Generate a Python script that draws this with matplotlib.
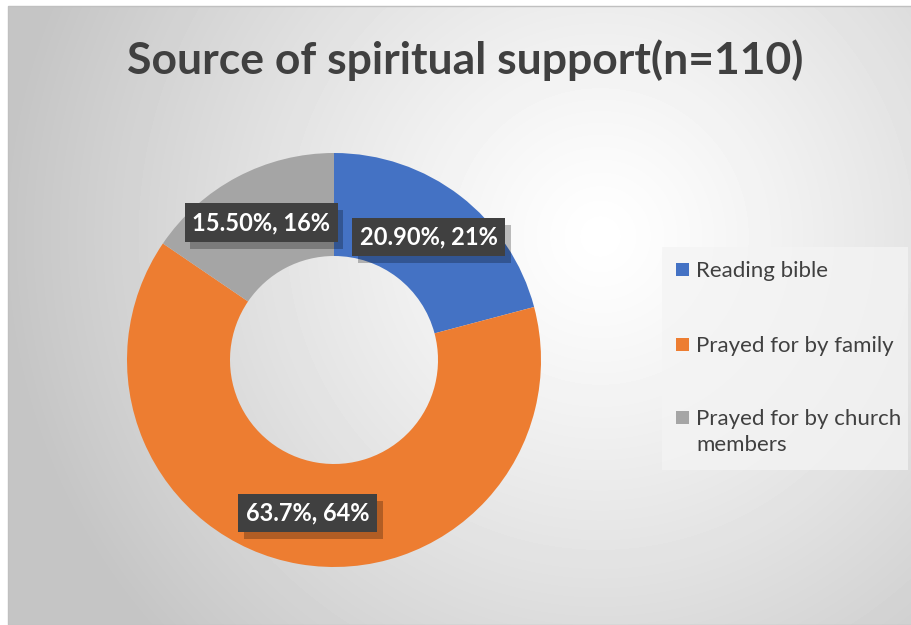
import numpy as np
import matplotlib.pyplot as plt
import matplotlib.patheffects as pe
from matplotlib.patches import Rectangle

categories = ['Reading bible', 'Prayed for by family', 'Prayed for by church\nmembers']
percent = [20.9, 63.7, 15.5]
point_labels = ['20.90%, 21%', '63.7%, 64%', '15.50%, 16%']
colors = ['#4472c4', '#ed7d31', '#a5a5a5']
title = 'Source of spiritual support(n=110)'

W, H = 912, 625
plt.rcParams['font.family'] = ['Lato', 'DejaVu Sans']

fig = plt.figure(figsize=(W / 100, H / 100), dpi=100)
ax = fig.add_axes([0, 0, 1, 1])
ax.set_xlim(0, W)
ax.set_ylim(0, H)
ax.set_aspect('equal')
ax.axis('off')

# radial gradient background of the chart area
xx, yy = np.meshgrid(np.arange(8, W), np.arange(0, H - 6))
d = np.hypot(xx - 600, yy - 230) / 600
shade = 1 - 0.23 * np.clip(d, 0, 1) ** 1.2
ax.imshow(shade, cmap='gray', vmin=0, vmax=1, extent=(8, W, 0, H - 6),
          origin='upper', zorder=0, interpolation='bilinear')
ax.add_patch(Rectangle((8, 0), W - 8, H - 6, fill=False, edgecolor='#c0c0c0', lw=1, zorder=1))

cx, cy = 334, H - 360
r_out, r_in = 207, 104
wedges, _ = ax.pie(percent, colors=colors, startangle=90, counterclock=False,
                   radius=r_out, center=(cx, cy),
                   wedgeprops=dict(width=r_out - r_in, edgecolor='none'))
for w in wedges:
    w.set_zorder(3)
ax.set_xlim(0, W)
ax.set_ylim(0, H)

# data labels at the middle of each ring segment
r_mid = (r_out + r_in) / 2
for w, lab in zip(wedges, point_labels):
    ang = np.deg2rad((w.theta1 + w.theta2) / 2)
    lx = cx + r_mid * np.cos(ang)
    ly = cy + r_mid * np.sin(ang)
    t = ax.text(lx, ly, lab, ha='center', va='center', fontsize=17, fontweight='bold',
                color='white', zorder=5,
                bbox=dict(boxstyle='square,pad=0.32', facecolor='#404040', edgecolor='none'))
    t.get_bbox_patch().set_path_effects([
        pe.SimplePatchShadow(offset=(4, -5), shadow_rgbFace='black', alpha=0.25),
        pe.Normal()])

ax.text(465, H - 60, title, ha='center', va='center', fontsize=32, fontweight='bold',
        color='#404040', zorder=5)

# legend
ax.add_patch(Rectangle((662, H - 470), 246, 223, facecolor='#f4f4f4', alpha=0.75,
                       edgecolor='none', zorder=4))
leg_y = [H - 270, H - 345, H - 418]
for c, lab, y in zip(colors, categories, leg_y):
    ax.add_patch(Rectangle((676, y - 6), 13, 13, facecolor=c, edgecolor='none', zorder=5))
    ax.text(696, y + 9, lab, ha='left', va='top', fontsize=16, color='#404040',
            linespacing=1.4, zorder=5)

fig.savefig('out.png', dpi=100)
